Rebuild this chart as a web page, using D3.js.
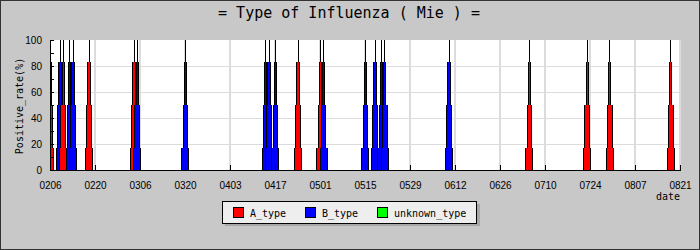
<!DOCTYPE html>
<html>
<head>
<meta charset="utf-8">
<title>Type of Influenza</title>
<style>
body { margin: 0; background: #c8c8c8; }
svg { display: block; font-family: 'DejaVu Sans Mono', monospace; }
.grid line { stroke: #dcdcdc; shape-rendering: crispEdges; }
.axis path, .axis line { stroke: #000; shape-rendering: crispEdges; }
.axis text { font-size: 10px; fill: #000; }
</style>
</head>
<body>
<script src="https://d3js.org/d3.v7.min.js"></script>
<script>
'use strict';
// chart data
const title = '= Type of Influenza ( Mie ) =';
const tickLabels = ['0206', '0220', '0306', '0320', '0403', '0417', '0501', '0515',
	'0529', '0612', '0626', '0710', '0724', '0807', '0821'];
const types = ['A_type', 'B_type', 'unknown_type'];
const colors = ['#ff0000', '#0000ff', '#00ff00'];

const aDates = ['0206', '0210', '0218', '0304', '0424', '0501', '0705', '0723', '0730', '0818'];
const aValues = [100, 100, 100, 100, 100, 100, 100, 100, 100, 100];
const bDates = ['0209', '0212', '0213', '0305', '0320', '0414', '0415', '0417', '0502',
	'0515', '0518', '0520', '0521', '0610'];
const bValues = [100, 100, 100, 100, 100, 100, 100, 100, 100, 100, 100, 100, 100, 100];
const uDates = [];
const uValues = [];

const parse = d3.timeParse('%m%d');

// records sorted by date, drawn in that order
const records = [];
[[aDates, aValues], [bDates, bValues], [uDates, uValues]].forEach(function (s, t) {
	s[0].forEach(function (d, i) {
		records.push({date: parse(d), value: s[1][i], type: t});
	});
});
records.sort(function (p, q) { return p.date - q.date; });

// dimensions
const W = 700, H = 250;
const plot = {left: 50, right: 680, top: 40, bottom: 170};
const halfWidth = 1.1;	// half base of a spike, in days
const steps = 3;

const x = d3.scaleTime()
	.domain([parse(tickLabels[0]), parse(tickLabels[tickLabels.length - 1])])
	.range([plot.left, plot.right]);
const y = d3.scaleLinear()
	.domain([0, 100])
	.range([plot.bottom, plot.top]);

const svg = d3.select('body').append('svg')
	.attr('width', W)
	.attr('height', H);

svg.append('rect')
	.attr('x', 0.5).attr('y', 0.5)
	.attr('width', W - 1).attr('height', H - 1)
	.attr('fill', '#c8c8c8')
	.attr('stroke', '#333');

svg.append('text')
	.attr('x', 349).attr('y', 18)
	.attr('text-anchor', 'middle')
	.attr('font-size', 15)
	.text(title);

// plot background
svg.append('rect')
	.attr('x', plot.left).attr('y', plot.top)
	.attr('width', plot.right - plot.left)
	.attr('height', plot.bottom - plot.top)
	.attr('fill', '#fff');

const tickDates = tickLabels.map(parse);

// grid
const grid = svg.append('g').attr('class', 'grid');
grid.selectAll('.v')
	.data(tickDates.slice(1))
	.enter().append('line')
	.attr('x1', function (d) { return Math.round(x(d)); })
	.attr('x2', function (d) { return Math.round(x(d)); })
	.attr('y1', plot.top).attr('y2', plot.bottom)
	.attr('stroke-width', 2);
grid.selectAll('.h')
	.data([20, 40, 60, 80])
	.enter().append('line')
	.attr('x1', plot.left).attr('x2', plot.right)
	.attr('y1', function (d) { return y(d); })
	.attr('y2', function (d) { return y(d); });

// spikes
svg.append('clipPath').attr('id', 'clip')
	.append('rect')
	.attr('x', plot.left).attr('y', plot.top - 1)
	.attr('width', plot.right - plot.left).attr('height', plot.bottom - plot.top + 1);

const spikes = svg.append('g').attr('clip-path', 'url(#clip)');
records.forEach(function (r) {
	const g = spikes.append('g');
	const cx = Math.round(x(r.date));
	g.append('line')
		.attr('x1', cx + 0.5).attr('x2', cx + 0.5)
		.attr('y1', y(r.value)).attr('y2', plot.bottom)
		.attr('stroke', '#000');
	for (let k = 0; k < steps; k++) {
		const h = r.value * (1 - (2 * k + 1) / (2 * steps));
		const hw = halfWidth * (k + 1) / steps;
		const x0 = Math.round(x(d3.timeHour.offset(r.date, -hw * 24)));
		const x1 = Math.round(x(d3.timeHour.offset(r.date, hw * 24))) + 1;
		const yt = Math.round(y(h));
		g.append('rect')
			.attr('x', x0).attr('y', yt)
			.attr('width', x1 - x0).attr('height', plot.bottom - yt)
			.attr('fill', colors[r.type]);
		g.append('path')
			.attr('d', 'M' + (x0 + 0.5) + ',' + yt + 'V' + plot.bottom +
				'M' + (x1 - 0.5) + ',' + yt + 'V' + plot.bottom)
			.attr('stroke', '#000')
			.attr('fill', 'none');
	}
});

// inner ticks
svg.append('g').selectAll('line')
	.data(tickDates)
	.enter().append('line')
	.attr('x1', function (d) { return Math.round(x(d)) + 0.5; })
	.attr('x2', function (d) { return Math.round(x(d)) + 0.5; })
	.attr('y1', plot.bottom - 5).attr('y2', plot.bottom)
	.attr('stroke', '#000');
svg.append('g').selectAll('line')
	.data(y.ticks(10))
	.enter().append('line')
	.attr('x1', plot.left).attr('x2', plot.left + 4)
	.attr('y1', function (d) { return Math.round(y(d)) + 0.5; })
	.attr('y2', function (d) { return Math.round(y(d)) + 0.5; })
	.attr('stroke', '#000');

// axes
svg.append('g')
	.attr('class', 'axis')
	.attr('transform', 'translate(0,' + plot.bottom + ')')
	.call(d3.axisBottom(x).tickValues(tickDates).tickFormat(d3.timeFormat('%m%d'))
		.tickSize(0).tickPadding(12));
svg.append('g')
	.attr('class', 'axis')
	.attr('transform', 'translate(' + plot.left + ',0)')
	.call(d3.axisLeft(y).ticks(5).tickSize(0).tickPadding(8));

svg.append('text')
	.attr('transform', 'translate(23,106) rotate(-90)')
	.attr('text-anchor', 'middle')
	.attr('font-size', 10)
	.text('Positive_rate(%)');
svg.append('text')
	.attr('x', 680).attr('y', 200)
	.attr('text-anchor', 'end')
	.attr('font-size', 10)
	.text('date');

// legend
const lg = svg.append('g').attr('transform', 'translate(222,201)');
lg.append('rect')
	.attr('x', 3).attr('y', 3).attr('width', 255).attr('height', 22)
	.attr('fill', '#a8a8a8');
lg.append('rect')
	.attr('x', 0.5).attr('y', 0.5).attr('width', 254).attr('height', 22)
	.attr('fill', '#eeeeee').attr('stroke', '#000');
const legX = [11, 83, 155];
types.forEach(function (t, i) {
	lg.append('rect')
		.attr('x', legX[i] + 0.5).attr('y', 6.5).attr('width', 10).attr('height', 10)
		.attr('fill', colors[i]).attr('stroke', '#000');
	lg.append('text')
		.attr('x', legX[i] + 17).attr('y', 15.5)
		.attr('font-size', 10)
		.text(t);
});
</script>
</body>
</html>
